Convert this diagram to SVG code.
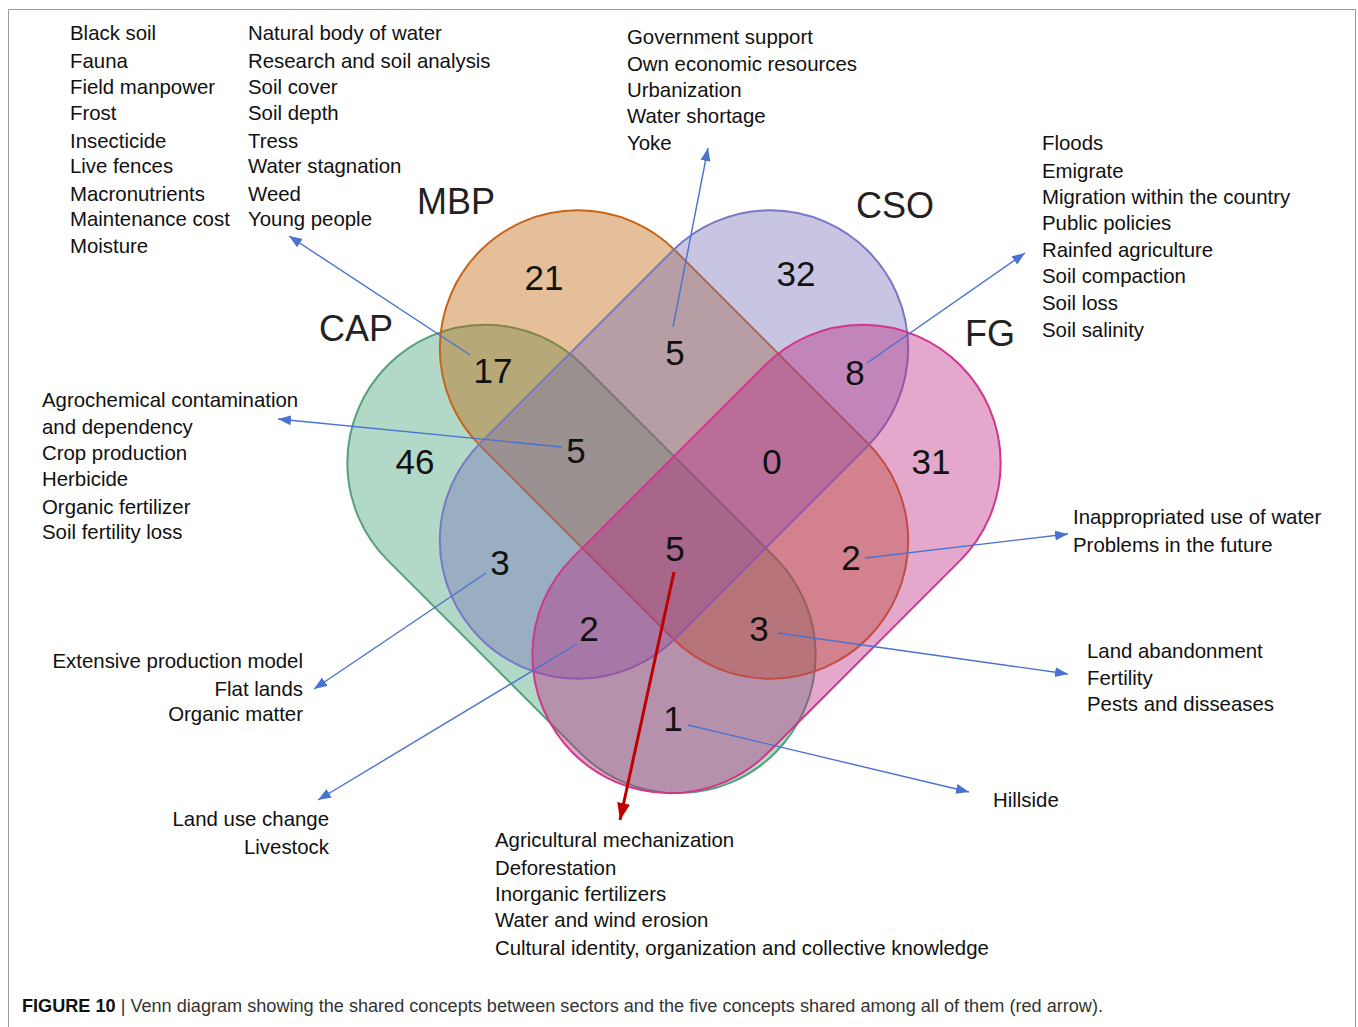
<svg xmlns="http://www.w3.org/2000/svg" width="1358" height="1027" viewBox="0 0 1358 1027">
  <style>
    .lbl { font-family: "Liberation Sans", Arial, sans-serif; font-size: 20.4px; fill: #111; }
    .end { text-anchor: end; }
    .num { font-family: "Liberation Sans", Arial, sans-serif; font-size: 35px; fill: #111; text-anchor: middle; }
    .set { font-family: "Liberation Sans", Arial, sans-serif; font-size: 36px; fill: #222; }
    .cap { font-family: "Liberation Sans", Arial, sans-serif; font-size: 17.5px; fill: #333; }
    .shape { stroke-width: 2; fill-opacity: 0.4; }
    .ptr { stroke: #4a72d0; stroke-width: 1.4; fill: none; marker-end: url(#tipBlue); }
    .ptr-red { stroke: #c00000; stroke-width: 3; fill: none; marker-end: url(#tipRed); }
  </style>
  <defs>
    <marker id="tipBlue" markerUnits="userSpaceOnUse" markerWidth="14" markerHeight="10" refX="13" refY="5" orient="auto">
      <path d="M0,0 L13,5 L0,10 z" fill="#4a72d0"/>
    </marker>
    <marker id="tipRed" markerUnits="userSpaceOnUse" markerWidth="18" markerHeight="13" refX="17" refY="6.5" orient="auto">
      <path d="M0,0 L17,6.5 L0,13 z" fill="#c00000"/>
    </marker>
  </defs>

  <rect width="1358" height="1027" fill="#fff"/>
  <path d="M8.5,1027 V9.5 H1355.5 V1027" fill="none" stroke="#999" stroke-width="1"/>

  <!-- four capsule-shaped sets -->
  <g id="set-CAP">
    <rect class="shape" x="-274" y="-138" width="548" height="276" rx="138" fill="#3ea076" stroke="#55a07a" transform="translate(581.5,559) rotate(45)"/>
  </g>
  <g id="set-MBP">
    <rect class="shape" x="-274" y="-138" width="548" height="276" rx="138" fill="#be5f00" stroke="#c8641a" transform="translate(674,444.5) rotate(45)"/>
  </g>
  <g id="set-CSO">
    <rect class="shape" x="-274" y="-138" width="548" height="276" rx="138" fill="#736eb6" stroke="#7878c4" transform="translate(674,444.5) rotate(-45)"/>
  </g>
  <g id="set-FG">
    <rect class="shape" x="-274" y="-138" width="548" height="276" rx="138" fill="#b92680" stroke="#d2358c" transform="translate(766.5,559) rotate(-45)"/>
  </g>

  <!-- set names -->
  <g id="set-names">
    <text class="set" x="319" y="341">CAP</text>
    <text class="set" x="417" y="214">MBP</text>
    <text class="set" x="856" y="218">CSO</text>
    <text class="set" x="965" y="346">FG</text>
  </g>

  <!-- region counts -->
  <g id="counts">
    <text class="num" x="544" y="290">21</text>
    <text class="num" x="796" y="286">32</text>
    <text class="num" x="493" y="383">17</text>
    <text class="num" x="675" y="365">5</text>
    <text class="num" x="855" y="385">8</text>
    <text class="num" x="415" y="474">46</text>
    <text class="num" x="576" y="463">5</text>
    <text class="num" x="772" y="474">0</text>
    <text class="num" x="931" y="474">31</text>
    <text class="num" x="500" y="575">3</text>
    <text class="num" x="675" y="561">5</text>
    <text class="num" x="851" y="570">2</text>
    <text class="num" x="589" y="641">2</text>
    <text class="num" x="759" y="641">3</text>
    <text class="num" x="673" y="731">1</text>
  </g>

  <!-- pointers from regions to their concept lists -->
  <g id="connectors">
    <line class="ptr" x1="470" y1="355" x2="289" y2="236"/>
    <line class="ptr" x1="673" y1="327" x2="708" y2="148"/>
    <line class="ptr" x1="867" y1="363" x2="1025" y2="253"/>
    <line class="ptr" x1="562" y1="447" x2="278" y2="419"/>
    <line class="ptr" x1="486" y1="573" x2="314" y2="689"/>
    <line class="ptr" x1="577" y1="644" x2="318" y2="800"/>
    <line class="ptr" x1="865" y1="558" x2="1068" y2="534"/>
    <line class="ptr" x1="778" y1="633" x2="1068" y2="674"/>
    <line class="ptr" x1="688" y1="725" x2="969" y2="792"/>
    <line class="ptr-red" x1="674" y1="572" x2="620" y2="820"/>
  </g>

  <!-- concept lists -->
  <g id="list-CAP-only" class="lbl">
    <text x="70" y="40">Black soil</text>
    <text x="70" y="68">Fauna</text>
    <text x="70" y="94">Field manpower</text>
    <text x="70" y="120">Frost</text>
    <text x="70" y="148">Insecticide</text>
    <text x="70" y="173">Live fences</text>
    <text x="70" y="201">Macronutrients</text>
    <text x="70" y="226">Maintenance cost</text>
    <text x="70" y="253">Moisture</text>
  </g>
  <g id="list-CAP-MBP" class="lbl">
    <text x="248" y="40">Natural body of water</text>
    <text x="248" y="68">Research and soil analysis</text>
    <text x="248" y="94">Soil cover</text>
    <text x="248" y="120">Soil depth</text>
    <text x="248" y="148">Tress</text>
    <text x="248" y="173">Water stagnation</text>
    <text x="248" y="201">Weed</text>
    <text x="248" y="226">Young people</text>
  </g>
  <g id="list-MBP-CSO" class="lbl">
    <text x="627" y="44">Government support</text>
    <text x="627" y="71">Own economic resources</text>
    <text x="627" y="97">Urbanization</text>
    <text x="627" y="123">Water shortage</text>
    <text x="627" y="150">Yoke</text>
  </g>
  <g id="list-CSO-FG" class="lbl">
    <text x="1042" y="150">Floods</text>
    <text x="1042" y="178">Emigrate</text>
    <text x="1042" y="204">Migration within the country</text>
    <text x="1042" y="230">Public policies</text>
    <text x="1042" y="257">Rainfed agriculture</text>
    <text x="1042" y="283">Soil compaction</text>
    <text x="1042" y="310">Soil loss</text>
    <text x="1042" y="337">Soil salinity</text>
  </g>
  <g id="list-CAP-MBP-CSO" class="lbl">
    <text x="42" y="407">Agrochemical contamination</text>
    <text x="42" y="434">and dependency</text>
    <text x="42" y="460">Crop production</text>
    <text x="42" y="486">Herbicide</text>
    <text x="42" y="514">Organic fertilizer</text>
    <text x="42" y="539">Soil fertility loss</text>
  </g>
  <g id="list-MBP-FG" class="lbl">
    <text x="1073" y="524">Inappropriated use of water</text>
    <text x="1073" y="552">Problems in the future</text>
  </g>
  <g id="list-CAP-CSO" class="lbl end">
    <text x="303" y="668">Extensive production model</text>
    <text x="303" y="696">Flat lands</text>
    <text x="303" y="721">Organic matter</text>
  </g>
  <g id="list-CAP-MBP-FG" class="lbl">
    <text x="1087" y="658">Land abandonment</text>
    <text x="1087" y="685">Fertility</text>
    <text x="1087" y="711">Pests and disseases</text>
  </g>
  <g id="list-CAP-CSO-FG" class="lbl end">
    <text x="329" y="826">Land use change</text>
    <text x="329" y="854">Livestock</text>
  </g>
  <g id="list-CAP-FG" class="lbl">
    <text x="993" y="807">Hillside</text>
  </g>
  <g id="list-all" class="lbl">
    <text x="495" y="847">Agricultural mechanization</text>
    <text x="495" y="875">Deforestation</text>
    <text x="495" y="901">Inorganic fertilizers</text>
    <text x="495" y="927">Water and wind erosion</text>
    <text x="495" y="955">Cultural identity, organization and collective knowledge</text>
  </g>

  <!-- figure caption -->
  <text class="cap" x="22" y="1012" textLength="1081" lengthAdjust="spacingAndGlyphs"><tspan font-weight="bold" fill="#111">FIGURE 10</tspan> | Venn diagram showing the shared concepts between sectors and the five concepts shared among all of them (red arrow).</text>
</svg>
